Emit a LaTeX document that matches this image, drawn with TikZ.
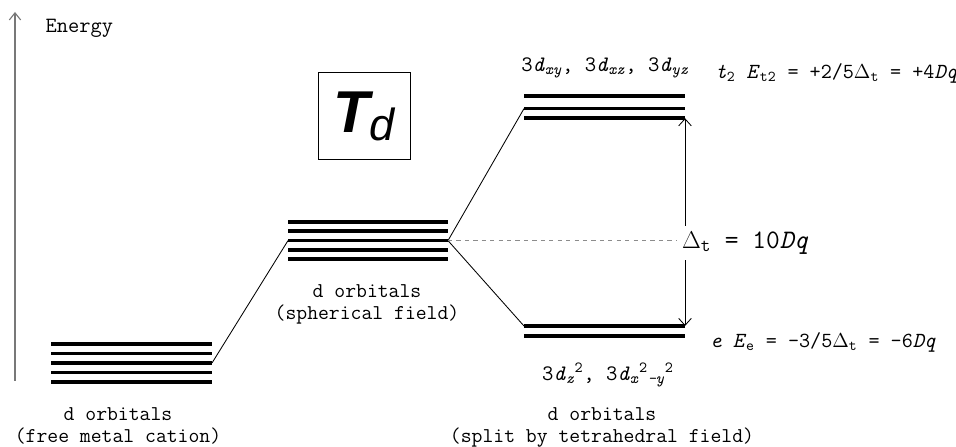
\documentclass[tikz,border=0pt]{standalone}
\usepackage{fontspec}
\setmainfont{Liberation Serif}
\newfontfamily\tdfont{Liberation Sans}
\usepackage{xcolor}
\definecolor{axisgray}{RGB}{120,120,120}
\definecolor{dashgray}{RGB}{140,140,140}
\usetikzlibrary{arrows.meta, positioning, calc}

\newcommand{\dorb}[1]{3\textit{d}\textsubscript{\textit{#1}}}
\newcommand{\Dt}{$\Delta$\textsubscript{t}}

\tikzset{
  level/.style={line width=2.7pt, black},
  link/.style={line width=0.6pt, black},
  lbl/.style={font=\fontsize{15}{15.6}\selectfont\ttfamily, align=center, inner sep=1pt},
  eqn/.style={font=\fontsize{15.3}{16}\selectfont\ttfamily, inner sep=1pt},
  orb/.style={font=\fontsize{15.7}{16}\selectfont\ttfamily, inner sep=1pt}
}

\begin{document}
\begin{tikzpicture}
  \useasboundingbox (0,0) rectangle (23.9,11.175);

  % Energy axis
  \coordinate (axlow) at (0.375,1.65);
  \coordinate (axtop) at (0.375,10.875);
  \draw[axisgray, line width=0.8pt, -{Straight Barb[length=5pt, width=8pt]}] (axlow) -- (axtop);
  \node[lbl, font=\fontsize{15.5}{16}\selectfont\ttfamily, anchor=west] (energy) at (1.1,10.475) {Energy};

  % Free ion levels
  \foreach \y in {2.575,2.3375,2.1,1.8625,1.625}
    \draw[level] (1.275,\y) -- (5.3,\y);
  \coordinate (free) at (5.3,2.1);
  \node[lbl] (freelbl) at (2.95,0.525) {d orbitals\\(free metal cation)};

  % Spherical field levels
  \foreach \y in {5.63,5.395,5.16,4.925,4.69}
    \draw[level] (7.2,\y) -- (11.2,\y);
  \coordinate (sphL) at (7.2,5.16);
  \coordinate (sphR) at (11.2,5.16);
  \node[lbl] (sphlbl) at (9.175,3.575) {d orbitals\\(spherical field)};

  % Td label
  \node[draw, line width=0.6pt, minimum width=2.3cm, minimum height=2.16cm, inner sep=0pt]
       (td) at (9.1,8.275)
       {\tdfont\fontsize{42}{42}\selectfont\bfseries\itshape T\raisebox{-0.2cm}{\fontsize{32}{32}\selectfont\mdseries d}};

  % t2 levels
  \foreach \y in {8.78,8.46,8.22}
    \draw[level] (13.1,\y) -- (17.125,\y);
  \coordinate (t2L) at (13.1,8.46);
  \coordinate (t2R) at (17.125,8.22);
  \node[orb] (t2orb) at (15.125,9.475) {\dorb{xy}, \dorb{xz}, \dorb{yz}};
  \node[eqn] (t2eq) at (20.91,9.35)
       {\textit{t}\textsubscript{2} \textit{E}\textsubscript{t2} = +2/5\Dt{} = +4\textit{Dq}};

  % e levels
  \foreach \y in {3.025,2.775}
    \draw[level] (13.1,\y) -- (17.125,\y);
  \coordinate (eL) at (13.1,3.025);
  \coordinate (eR) at (17.125,3.025);
  \node[eqn] (eeq) at (20.575,2.625)
       {\textit{e} \textit{E}\textsubscript{e} = -3/5\Dt{} = -6\textit{Dq}};
  \node[orb] (eorb) at (15.2,1.8)
       {3\textit{d}\textsubscript{\textit{z}}\textsuperscript{2}, 3\textit{d}\textsubscript{\textit{x}}\textsuperscript{2}\textsubscript{\textit{-y}}\textsuperscript{2}};
  \node[lbl] (splitlbl) at (15.05,0.4875) {d orbitals\\(split by tetrahedral field)};

  % Connectors
  \draw[link] (free) -- (sphL);
  \draw[link] (sphR) -- (t2L);
  \draw[link] (sphR) -- (eL);

  % Splitting arrow
  \draw[link, {Straight Barb[length=5pt, width=9pt]}-{Straight Barb[length=5pt, width=9pt]}] (t2R) -- (eR);
  \node[fill=white, inner sep=4pt, font=\fontsize{19}{20}\selectfont\ttfamily] (dq) at (18.63,5.1)
       {\Dt{} = 10\textit{Dq}};
  \draw[dashgray, line width=0.6pt, dashed] (sphR) -- (sphR -| dq.west);
\end{tikzpicture}
\end{document}
